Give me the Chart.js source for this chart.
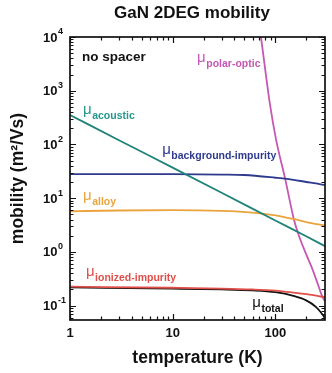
<!DOCTYPE html>
<html>
<head>
<meta charset="utf-8">
<script src="https://cdn.jsdelivr.net/npm/chart.js@4.4.0/dist/chart.umd.min.js"></script>
<style>
  html, body { margin: 0; padding: 0; background: #fff; }
  #wrap { width: 332px; height: 373px; }
</style>
</head>
<body>
<div id="wrap"><canvas id="mobilityChart" width="332" height="373"></canvas></div>
<script>
// mobility (m²/Vs) of each scattering mechanism vs temperature (K)
const acousticT = [1, 3, 10, 30, 100, 200, 305];
const acousticMu = [353, 120, 37, 12.6, 3.85, 1.95, 1.28];

const backgroundT = [1, 10, 30, 50, 100, 150, 200, 250, 305];
const backgroundMu = [28, 28, 27.5, 27, 24, 22, 20, 18.8, 17.5];

const alloyT = [1, 3, 10, 30, 60, 100, 150, 200, 305];
const alloyMu = [5.7, 5.9, 6.0, 5.8, 5.4, 4.8, 4.1, 3.6, 3.1];

const polarT = [70, 72.5, 88, 102, 125, 151, 167, 200, 228, 260, 286, 305];
const polarMu = [16000, 10000, 620, 120, 22.6, 4.2, 2.2, 0.9, 0.5, 0.25, 0.15, 0.12];

const ionizedT = [1, 10, 30, 60, 100, 150, 200, 250, 305];
const ionizedMu = [0.225, 0.215, 0.208, 0.2, 0.19, 0.175, 0.163, 0.153, 0.143];

const totalT = [1, 10, 30, 60, 100, 150, 200, 250, 286, 305];
const totalMu = [0.218, 0.207, 0.2, 0.192, 0.178, 0.152, 0.125, 0.094, 0.07, 0.058];

// axis labels
const xTickLabels = [1, 10, 100];
const yTickExponents = [-1, 0, 1, 2, 3, 4];

const FONT = '"Liberation Sans", Arial, Helvetica, sans-serif';
const colors = {
  acoustic: '#1f8379',
  background: '#2d3a8e',
  alloy: '#eba43c',
  polar: '#c558b3',
  ionized: '#e0504a',
  total: '#111111'
};

// curve labels, anchored in data coordinates (T, mu)
const curveLabels = [
  { sub: 'acoustic', color: '#26978c', at: [1.34, 368] },
  { sub: 'background-impurity', color: colors.background, at: [7.9, 66] },
  { sub: 'alloy', color: colors.alloy, at: [1.34, 9.2] },
  { sub: 'polar-optic', color: colors.polar, at: [17.3, 3420] },
  { sub: 'ionized-impurity', color: colors.ionized, at: [1.43, 0.354] },
  { sub: 'total', color: colors.total, at: [59.7, 0.094] }
];

function points(ts, mus) {
  return ts.map((t, i) => ({ x: t, y: mus[i] }));
}

// 1..9 x 10^n ticks between lo and hi
function logTicks(lo, hi) {
  const out = [];
  for (let e = Math.floor(Math.log10(lo)); e <= Math.ceil(Math.log10(hi)); e++) {
    for (let k = 1; k <= 9; k++) {
      const v = k * Math.pow(10, e);
      if (v >= lo * 0.999 && v <= hi * 1.001) out.push({ value: v, major: k === 1 });
    }
  }
  return out;
}

function series(label, ts, mus, color) {
  return {
    label, data: points(ts, mus), borderColor: color, borderWidth: 1.8,
    pointRadius: 0, fill: false, cubicInterpolationMode: 'monotone'
  };
}

const framePlugin = {
  id: 'framePlugin',
  afterDatasetsDraw(chart) {
    const { ctx, chartArea: a, scales: { x, y } } = chart;
    ctx.save();

    // box
    ctx.strokeStyle = '#111';
    ctx.lineWidth = 1.7;
    ctx.strokeRect(a.left, a.top, a.right - a.left, a.bottom - a.top);

    // inward ticks on all four sides
    ctx.lineWidth = 1.2;
    ctx.beginPath();
    x.ticks.forEach(t => {
      const px = Math.round(x.getPixelForValue(t.value)) + 0.5;
      const len = t.major ? 6 : 3.5;
      ctx.moveTo(px, a.bottom); ctx.lineTo(px, a.bottom - len);
      ctx.moveTo(px, a.top); ctx.lineTo(px, a.top + len);
    });
    y.ticks.forEach(t => {
      const py = Math.round(y.getPixelForValue(t.value)) + 0.5;
      const len = t.major ? 6 : 3.5;
      ctx.moveTo(a.left, py); ctx.lineTo(a.left + len, py);
      ctx.moveTo(a.right, py); ctx.lineTo(a.right - len, py);
    });
    ctx.stroke();

    ctx.fillStyle = '#111';

    // x tick labels
    ctx.font = 'bold 13px ' + FONT;
    ctx.textAlign = 'center';
    ctx.textBaseline = 'middle';
    xTickLabels.forEach(v => ctx.fillText(String(v), x.getPixelForValue(v), a.bottom + 13));

    // y tick labels as 10 with a raised exponent
    ctx.textAlign = 'left';
    yTickExponents.forEach(e => {
      const py = y.getPixelForValue(Math.pow(10, e));
      ctx.font = 'bold 13px ' + FONT;
      ctx.fillText('10', 43, py + 1);
      const w = ctx.measureText('10').width;
      ctx.font = 'bold 9px ' + FONT;
      ctx.fillText(String(e), 43 + w + 0.5, py - 5);
    });

    // title
    ctx.font = 'bold 17px ' + FONT;
    ctx.textAlign = 'center';
    ctx.fillText('GaN 2DEG mobility', 192, 13);

    // annotations
    ctx.textAlign = 'left';
    ctx.textBaseline = 'alphabetic';
    ctx.font = 'bold 13.5px ' + FONT;
    ctx.fillText('no spacer', x.getPixelForValue(1.31), y.getPixelForValue(3500));

    curveLabels.forEach(l => {
      const px = x.getPixelForValue(l.at[0]);
      const py = y.getPixelForValue(l.at[1]);
      ctx.fillStyle = l.color;
      ctx.font = '15px ' + FONT;
      ctx.fillText('μ', px, py);
      const w = ctx.measureText('μ').width;
      ctx.font = 'bold 10.5px ' + FONT;
      ctx.fillText(l.sub, px + w + 0.5, py + 5);
    });

    ctx.restore();
  }
};

const ctx = document.getElementById('mobilityChart').getContext('2d');
new Chart(ctx, {
  type: 'line',
  data: {
    datasets: [
      series('ionized-impurity', ionizedT, ionizedMu, colors.ionized),
      series('total', totalT, totalMu, colors.total),
      series('acoustic', acousticT, acousticMu, colors.acoustic),
      series('background-impurity', backgroundT, backgroundMu, colors.background),
      series('alloy', alloyT, alloyMu, colors.alloy),
      series('polar-optic', polarT, polarMu, colors.polar)
    ]
  },
  options: {
    responsive: false,
    animation: false,
    devicePixelRatio: 1,
    layout: { padding: { top: 37, right: 7, left: 0, bottom: 0 } },
    plugins: { legend: { display: false }, tooltip: { enabled: false } },
    scales: {
      x: {
        type: 'logarithmic', min: 1, max: 305,
        grid: { display: false }, border: { display: false },
        ticks: { display: false },
        title: {
          display: true, text: 'temperature (K)', color: '#111',
          font: { family: FONT, size: 17.5, weight: 'bold' },
          padding: { top: 0, bottom: 4.5 }
        },
        afterBuildTicks: s => { s.ticks = logTicks(1, 305); },
        afterFit: s => { s.height = 53; }
      },
      y: {
        type: 'logarithmic', min: 0.054, max: 10000,
        grid: { display: false }, border: { display: false },
        ticks: { display: false },
        title: {
          display: true, text: 'mobility (m²/Vs)', color: '#111',
          font: { family: FONT, size: 17.5, weight: 'bold' },
          padding: { top: 7.5, bottom: 0 }
        },
        afterBuildTicks: s => { s.ticks = logTicks(0.054, 10000); },
        afterFit: s => { s.width = 70; }
      }
    }
  },
  plugins: [framePlugin]
});
</script>
</body>
</html>
